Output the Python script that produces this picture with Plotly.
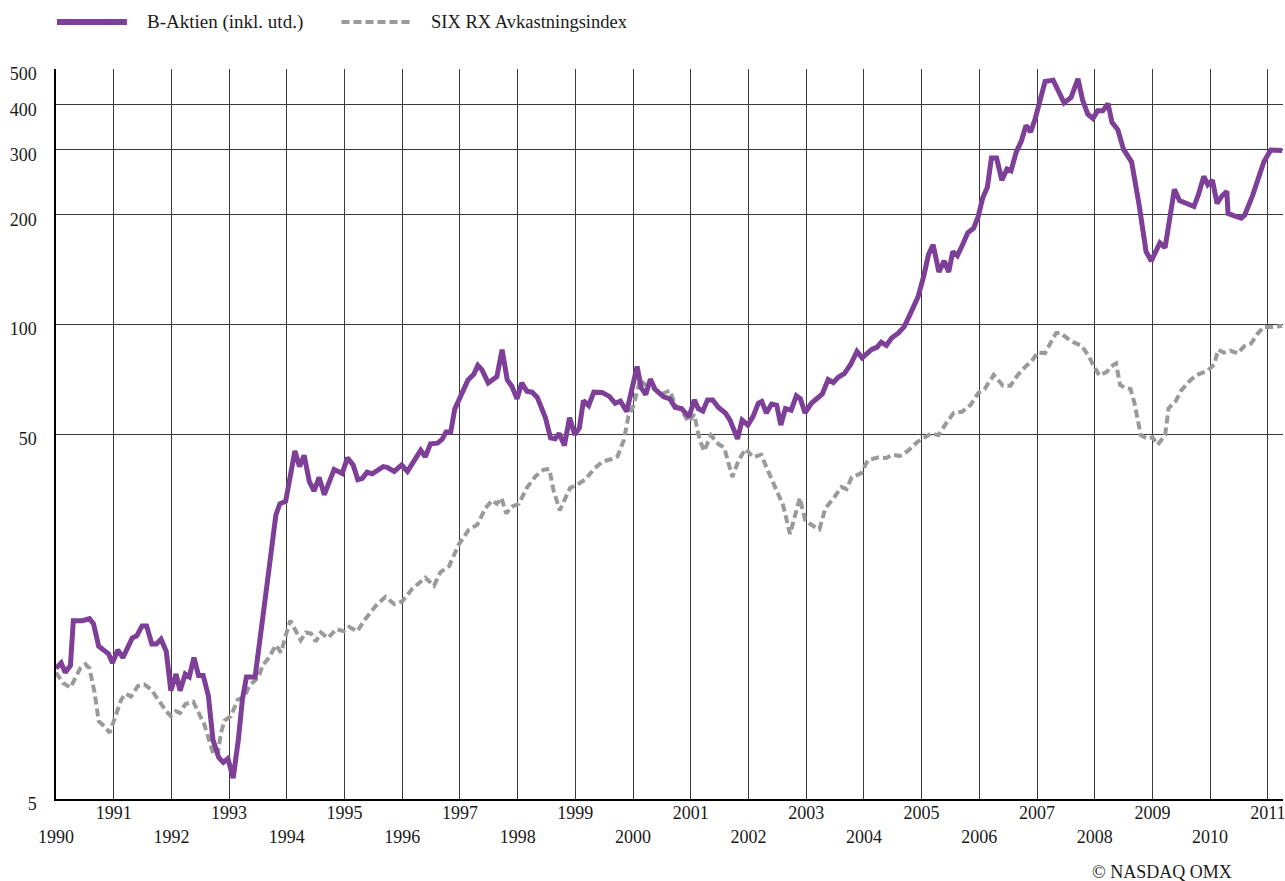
import plotly.graph_objects as go

# ---- data (decimal years, index values) ----
b_years = [1990.00,1990.09,1990.16,1990.25,1990.30,1990.46,1990.58,1990.65,1990.74,1990.84,
           1990.91,1990.98,1991.07,1991.16,1991.24,1991.32,1991.40,1991.49,1991.57,1991.66,
           1991.74,1991.82,1991.91,1991.99,1992.08,1992.15,1992.24,1992.31,1992.39,1992.47,
           1992.55,1992.64,1992.72,1992.82,1992.90,1992.98,1993.07,1993.16,1993.23,1993.30,
           1993.45,1993.55,1993.66,1993.81,1993.88,1993.98,1994.07,1994.14,1994.22,1994.30,
           1994.39,1994.47,1994.56,1994.65,1994.82,1994.96,1995.05,1995.15,1995.23,1995.31,
           1995.39,1995.48,1995.67,1995.74,1995.86,1995.99,1996.09,1996.20,1996.32,1996.40,
           1996.49,1996.61,1996.69,1996.76,1996.84,1996.91,1997.01,1997.14,1997.24,1997.31,
           1997.38,1997.49,1997.64,1997.73,1997.82,1997.90,1997.99,1998.07,1998.16,1998.25,
           1998.34,1998.48,1998.57,1998.65,1998.72,1998.81,1998.90,1998.99,1999.07,1999.14,
           1999.23,1999.32,1999.46,1999.59,1999.69,1999.78,1999.89,1999.98,2000.07,2000.14,
           2000.22,2000.30,2000.38,2000.53,2000.64,2000.73,2000.84,2000.97,2001.06,2001.13,
           2001.21,2001.29,2001.38,2001.48,2001.60,2001.68,2001.81,2001.89,2001.99,2002.08,
           2002.17,2002.23,2002.31,2002.40,2002.49,2002.56,2002.64,2002.74,2002.83,2002.90,
           2002.98,2003.09,2003.18,2003.28,2003.38,2003.47,2003.56,2003.66,2003.77,2003.88,
           2003.97,2004.13,2004.23,2004.30,2004.39,2004.48,2004.59,2004.70,2004.82,2004.94,
           2005.04,2005.12,2005.20,2005.30,2005.39,2005.47,2005.54,2005.62,2005.71,2005.80,
           2005.90,2005.98,2006.06,2006.14,2006.21,2006.30,2006.39,2006.48,2006.55,2006.64,
           2006.73,2006.81,2006.89,2006.97,2007.06,2007.14,2007.28,2007.36,2007.47,2007.59,
           2007.71,2007.79,2007.88,2007.97,2008.05,2008.14,2008.23,2008.30,2008.40,2008.50,
           2008.64,2008.77,2008.89,2008.98,2009.06,2009.13,2009.22,2009.29,2009.38,2009.47,
           2009.58,2009.72,2009.80,2009.89,2009.96,2010.04,2010.12,2010.20,2010.29,2010.31,
           2010.42,2010.54,2010.60,2010.74,2010.93,2011.05,2011.25]
b_values = [11.4,11.8,11.1,11.6,15.4,15.4,15.6,15.1,13.1,12.7,
            12.5,11.8,12.8,12.2,13.0,13.8,14.0,14.9,14.9,13.3,
            13.3,13.7,12.7,9.9,11.0,9.9,11.0,10.8,12.2,10.9,
            10.9,9.6,7.27,6.5,6.3,6.45,5.7,7.27,9.36,10.8,
            10.8,14.0,19.5,30.0,32.2,32.7,39.5,44.9,40.7,43.7,
            37.0,34.9,38.0,34.1,40.0,39.0,43.0,41.1,37.5,37.8,
            39.3,38.9,40.7,40.5,39.5,41.1,39.5,42.4,45.1,43.3,
            47.0,47.2,48.3,50.6,50.6,58.5,63.0,70.3,72.9,77.1,
            75.0,69.0,71.8,85.1,70.3,67.6,62.4,69.0,65.5,65.1,
            63.0,55.5,48.8,48.5,50.2,46.5,55.4,49.8,52.0,61.7,
            59.8,65.1,65.0,63.4,60.7,61.5,57.6,66.3,76.5,67.0,
            64.1,70.7,66.3,63.2,62.4,59.1,58.7,55.7,62.0,58.7,
            57.8,62.0,62.0,59.1,57.1,54.6,48.5,54.6,52.9,55.9,
            60.7,61.4,57.1,60.4,59.9,52.9,58.7,58.1,63.6,62.4,
            57.1,60.7,62.6,64.4,70.5,69.2,71.6,73.2,77.5,84.2,
            80.8,85.1,86.5,89.2,87.4,91.6,94.3,98.4,108,119,
            136,155,165,139,149,139,158,154,165,178,
            183,197,222,237,285,285,248,266,263,296,
            318,350,336,366,414,462,466,440,404,418,
            470,411,376,366,384,384,402,357,341,301,
            278,212,158,149,158,167,162,195,234,218,
            214,210,227,254,241,248,214,224,231,201,
            198,195,199,226,278,300,299]

six_years = [1990.00,1990.12,1990.25,1990.35,1990.42,1990.51,1990.58,1990.67,1990.74,1990.84,
             1990.93,1991.01,1991.13,1991.21,1991.30,1991.42,1991.53,1991.65,1991.79,1991.91,
             1991.99,1992.08,1992.15,1992.24,1992.38,1992.48,1992.57,1992.64,1992.73,1992.80,
             1992.86,1992.92,1993.03,1993.15,1993.26,1993.35,1993.43,1993.51,1993.58,1993.69,
             1993.81,1993.90,1993.98,1994.06,1994.18,1994.24,1994.33,1994.42,1994.50,1994.59,
             1994.71,1994.86,1994.99,1995.08,1995.22,1995.34,1995.54,1995.71,1995.86,1996.00,
             1996.17,1996.40,1996.55,1996.66,1996.81,1996.98,1997.15,1997.30,1997.44,1997.56,
             1997.64,1997.72,1997.80,1997.90,1998.02,1998.16,1998.31,1998.45,1998.55,1998.62,
             1998.73,1998.83,1998.91,1999.03,1999.17,1999.33,1999.47,1999.63,1999.73,1999.84,
             1999.92,2000.01,2000.12,2000.22,2000.35,2000.50,2000.64,2000.73,2000.84,2000.96,
             2001.06,2001.15,2001.23,2001.35,2001.48,2001.58,2001.66,2001.72,2001.83,2001.95,
             2002.08,2002.22,2002.33,2002.47,2002.60,2002.72,2002.82,2002.89,2002.98,2003.09,
             2003.23,2003.33,2003.49,2003.61,2003.70,2003.79,2003.95,2004.07,2004.24,2004.39,
             2004.50,2004.62,2004.76,2004.93,2005.17,2005.29,2005.43,2005.56,2005.70,2005.85,
             2005.98,2006.09,2006.25,2006.32,2006.41,2006.54,2006.67,2006.81,2006.91,2007.01,
             2007.14,2007.25,2007.33,2007.40,2007.58,2007.78,2007.89,2007.98,2008.08,2008.21,
             2008.28,2008.37,2008.44,2008.54,2008.62,2008.69,2008.76,2008.80,2008.92,2009.00,
             2009.09,2009.22,2009.28,2009.41,2009.49,2009.61,2009.75,2009.96,2010.07,2010.14,
             2010.24,2010.35,2010.48,2010.59,2010.71,2010.82,2010.93,2011.09,2011.25]
six_values = [11.1,10.4,10.1,10.9,11.4,11.7,11.4,9.77,8.17,7.91,
              7.6,8.25,9.36,9.72,9.54,10.2,10.3,9.97,9.24,8.7,
              8.43,8.7,8.6,9.1,9.24,8.6,8.0,7.36,6.62,6.62,
              7.6,8.2,8.43,9.36,9.5,10.2,10.5,10.8,11.6,12.2,
              13.2,12.6,14.0,15.4,14.2,13.6,14.3,14.2,13.5,14.3,
              13.8,14.6,14.4,14.8,14.4,15.4,16.9,17.9,17.1,17.4,
              18.8,20.2,19.2,20.9,21.7,24.9,27.3,28.2,31.3,32.9,
              32.2,33.4,30.3,31.6,32.2,35.6,38.3,39.9,40.1,35.1,
              30.9,33.4,35.6,36.3,37.5,40.2,42.0,42.7,43.4,48.1,
              56.0,59.9,70.3,68.1,66.8,64.4,65.8,59.9,58.1,54.0,
              56.6,48.5,44.9,49.6,46.9,45.9,41.7,38.1,42.4,45.5,
              43.2,43.9,39.9,35.6,31.9,26.6,30.6,33.4,29.1,28.2,
              27.4,31.2,33.6,35.8,35.3,38.1,39.0,42.4,43.1,43.0,
              43.9,43.5,44.9,47.6,50.2,49.6,53.6,57.2,57.5,60.1,
              64.7,66.3,72.6,70.3,67.8,67.8,72.7,76.8,79.2,83.6,
              83.3,89.7,94.5,94.7,90.1,87.0,82.0,77.0,72.3,74.0,
              76.5,78.0,68.1,66.8,66.4,60.7,53.4,49.6,48.5,49.0,
              46.7,49.6,58.8,61.7,65.5,69.0,72.3,74.6,77.5,85.1,
              83.5,84.6,83.1,87.0,88.5,94.1,98.2,98.2,99.0]

year_ticks = list(range(1990, 2012))
y_ticks = [5, 50, 100, 200, 300, 400, 500]

series_names = ["B-Aktien (inkl. utd.)", "SIX RX Avkastningsindex"]
source_text = "© NASDAQ OMX"

PURPLE = "#7d3f98"
GREY = "#9a9a9a"
GRID = "#3a3a3a"
FONT = "Liberation Serif"

fig = go.Figure()
fig.add_trace(go.Scatter(x=six_years, y=six_values, mode="lines", name=series_names[1],
                         line=dict(color=GREY, width=4, dash="8px,4px")))
fig.add_trace(go.Scatter(x=b_years, y=b_values, mode="lines", name=series_names[0],
                         line=dict(color=PURPLE, width=5)))

ticktext = [str(y) if y % 2 == 1 else "<br>" + str(y) for y in year_ticks]

fig.update_layout(
    width=1285, height=881,
    margin=dict(l=56, r=0, t=69, b=82),
    paper_bgcolor="white", plot_bgcolor="white",
    showlegend=False,
    font=dict(family=FONT, size=18, color="#1a1a1a"),
    xaxis=dict(range=[1990, 1990 + 1229 / 57.8], tickvals=year_ticks, ticktext=ticktext,
               showgrid=True, gridcolor=GRID, gridwidth=1, zeroline=False,
               showline=True, linecolor="black", linewidth=1.5, ticks="",
               ticklabeloverflow="allow", ticklabelstandoff=-3,
               tickangle=0, tickfont=dict(family=FONT, size=18)),
    yaxis=dict(type="log", range=[0.69897, 2.69897], tickvals=y_ticks,
               ticktext=[str(v) for v in y_ticks],
               showgrid=True, gridcolor=GRID, gridwidth=1, zeroline=False,
               showline=True, linecolor="black", linewidth=1.5, ticks="",
               ticklabelstandoff=14, ticklabelshift=5,
               tickfont=dict(family=FONT, size=18)),
)

# legend drawn as layout decoration (pixel positions -> paper coords)
W = 1229.0
H = 730.0
def px(x):
    return (x - 56.0) / W
def py(y):
    return (799.0 - y) / H

fig.add_shape(type="line", xref="paper", yref="paper", x0=px(57), x1=px(127), y0=py(22), y1=py(22),
              line=dict(color=PURPLE, width=6))
fig.add_shape(type="line", xref="paper", yref="paper", x0=px(342), x1=px(412), y0=py(22), y1=py(22),
              line=dict(color=GREY, width=4, dash="8px,4px"))
fig.add_annotation(xref="paper", yref="paper", x=px(145), y=py(22), text=series_names[0],
                   showarrow=False, xanchor="left", yanchor="middle", font=dict(family=FONT, size=19))
fig.add_annotation(xref="paper", yref="paper", x=px(430), y=py(22), text=series_names[1],
                   showarrow=False, xanchor="left", yanchor="middle", font=dict(family=FONT, size=18.5))
fig.add_annotation(xref="paper", yref="paper", x=px(1236), y=py(872), text=source_text,
                   showarrow=False, xanchor="right", yanchor="middle", font=dict(family=FONT, size=18))

fig.write_html("out.html", config={"displayModeBar": False},
               post_script="document.body.style.margin='0';document.body.style.overflow='hidden';")
